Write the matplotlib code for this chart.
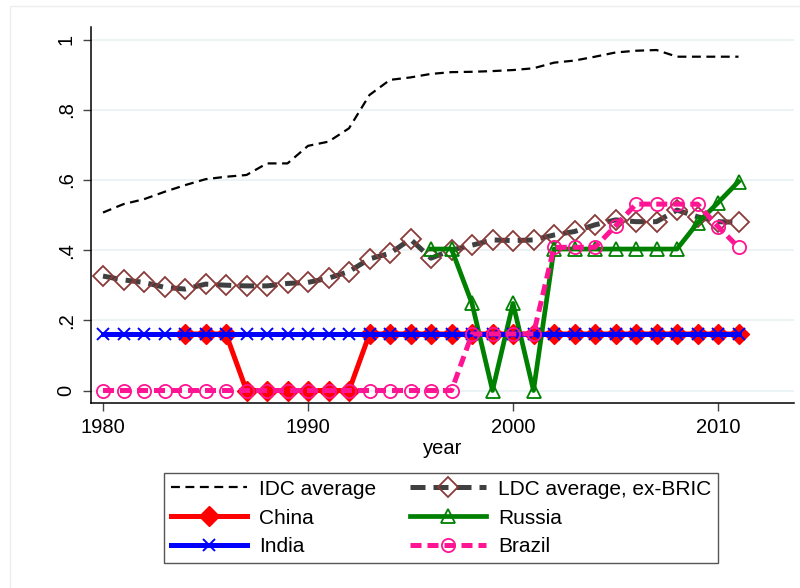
import matplotlib
matplotlib.use("Agg")
import matplotlib.pyplot as plt
from matplotlib.patches import Rectangle

plt.rcParams["font.family"] = ["Liberation Sans", "DejaVu Sans"]

years = list(range(1980, 2012))

idc_avg = [0.507, 0.531, 0.545, 0.566, 0.585, 0.602, 0.609, 0.614, 0.647, 0.647,
           0.697, 0.709, 0.747, 0.842, 0.885, 0.892, 0.902, 0.907, 0.908, 0.910,
           0.913, 0.918, 0.934, 0.940, 0.951, 0.963, 0.968, 0.970, 0.951, 0.951,
           0.951, 0.951]

ldc_avg = [0.326, 0.315, 0.308, 0.294, 0.289, 0.303, 0.300, 0.298, 0.298, 0.305,
           0.308, 0.320, 0.339, 0.375, 0.391, 0.431, 0.377, 0.400, 0.414, 0.429,
           0.427, 0.429, 0.443, 0.453, 0.472, 0.486, 0.481, 0.481, 0.514, 0.495,
           0.481, 0.479]

china_years = list(range(1984, 2012))
china = [0.161, 0.161, 0.161, 0, 0, 0, 0, 0, 0, 0.161,
         0.161, 0.161, 0.161, 0.161, 0.161, 0.161, 0.161, 0.161, 0.161, 0.161,
         0.161, 0.161, 0.161, 0.161, 0.161, 0.161, 0.161, 0.161]

russia_years = list(range(1996, 2012))
russia = [0.403, 0.403, 0.248, 0.0, 0.248, 0.0, 0.403, 0.403, 0.403, 0.403,
          0.403, 0.403, 0.403, 0.477, 0.535, 0.595]

india = [0.161] * 32

brazil = [0, 0, 0, 0, 0, 0, 0, 0, 0, 0,
          0, 0, 0, 0, 0, 0, 0, 0, 0.161, 0.161,
          0.161, 0.161, 0.408, 0.408, 0.408, 0.469, 0.531, 0.531, 0.531, 0.531,
          0.467, 0.408]

yticks = [0, 0.2, 0.4, 0.6, 0.8, 1.0]
ytick_labels = ["0", ".2", ".4", ".6", ".8", "1"]
xticks = [1980, 1990, 2000, 2010]

fig = plt.figure(figsize=(8, 5.88), dpi=100)
fig.patches.append(Rectangle((10 / 800, -0.1), 1.2, 1.1 - 6 / 588, transform=fig.transFigure,
                             fill=False, edgecolor="#EEEEEE", lw=1.0))
ax = fig.add_axes([91 / 800, 1 - 403 / 588, (794 - 91) / 800, (403 - 27) / 588])

h_idc, = ax.plot(years, idc_avg, color="black", lw=1.6, ls=(0, (4, 2.5)),
                 label="IDC average")
h_ldc, = ax.plot(years, ldc_avg, color="#404040", lw=3.6, ls=(0, (3, 1.6)),
                 marker="D", ms=10, mfc="none", mec="#8B3A3A", mew=1.3,
                 label="LDC average, ex-BRIC")
h_chn, = ax.plot(china_years, china, color="#FF0000", lw=3.6,
                 marker="D", ms=10, mfc="#FF0000", mec="#FF0000",
                 label="China")
h_rus, = ax.plot(russia_years, russia, color="#008000", lw=3.4,
                 marker="^", ms=10, mfc="none", mec="#008000", mew=1.3,
                 label="Russia")
h_ind, = ax.plot(years, india, color="#0000FF", lw=3.6,
                 marker="x", ms=8, mec="#0000FF", mew=1.4,
                 label="India")
h_bra, = ax.plot(years, brazil, color="#FF1493", lw=3.6, ls=(0, (2.2, 1.2)),
                 marker="o", ms=9.5, mfc="none", mec="#FF1493", mew=1.3,
                 label="Brazil")

ax.set_xlim(1980 - 12 / 20.5, 1980 + (794 - 103) / 20.5)
ax.set_ylim(-12.5 / 351, (390.5 - 27) / 351)
ax.set_yticks(yticks)
ax.set_yticklabels(ytick_labels, rotation=90, va="center")
ax.set_xticks(xticks)
ax.grid(True, axis="y", color="#EAF2F3", lw=1.3, zorder=0)
ax.set_axisbelow(True)
ax.tick_params(axis="both", direction="out", length=6, width=1.0, color="#444444",
               labelsize=14.5, pad=5)
for side in ("top", "right"):
    ax.spines[side].set_visible(False)
for side in ("left", "bottom"):
    ax.spines[side].set_linewidth(1.1)
ax.set_xlabel("year", fontsize=14.5, labelpad=1)

handles = [h_idc, h_chn, h_ind, h_ldc, h_rus, h_bra]
leg = fig.legend(handles, [h.get_label() for h in handles], ncol=2,
                 loc="center", bbox_to_anchor=(441 / 800, 1 - 518 / 588),
                 fontsize=15, handlelength=3.65, handletextpad=0.6,
                 columnspacing=1.6, labelspacing=0.47, borderpad=0.3,
                 frameon=True, fancybox=False, edgecolor="#555555", framealpha=1)
leg.get_frame().set_linewidth(1.0)

fig.savefig("out.png", dpi=100)
